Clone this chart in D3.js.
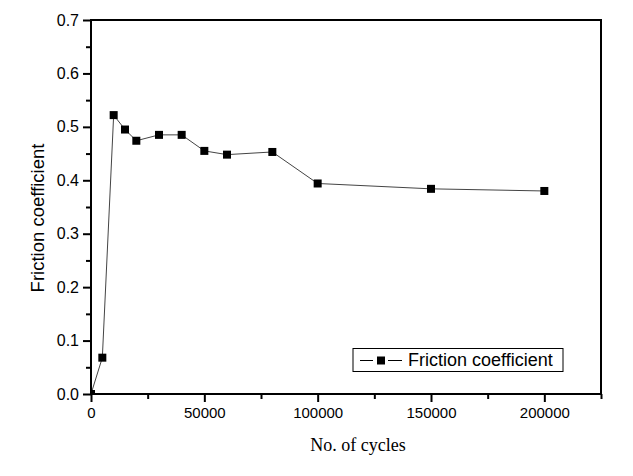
<!DOCTYPE html>
<html><head><meta charset="utf-8">
<script src="https://cdn.jsdelivr.net/npm/d3@7"></script>
<style>body{margin:0;background:#fff}svg{display:block}</style>
</head><body>
<svg id="c" width="633" height="476"></svg>
<script>
const cycles = [0, 5000, 10000, 15000, 20000, 30000, 40000, 50000, 60000, 80000, 100000, 150000, 200000];
const friction = [0.0, 0.068, 0.522, 0.495, 0.474, 0.485, 0.485, 0.455, 0.448, 0.453, 0.394, 0.384, 0.380];
const xTicks = [0, 50000, 100000, 150000, 200000];
const xMinor = [25000, 75000, 125000, 175000, 225000];
const yTicks = [0.0, 0.1, 0.2, 0.3, 0.4, 0.5, 0.6, 0.7];
const yMinor = [0.05, 0.15, 0.25, 0.35, 0.45, 0.55, 0.65];
const seriesName = "Friction coefficient";
const xTitle = "No. of cycles";
const yTitle = "Friction coefficient";

const L = 91, R = 601, T = 20, B = 394;
const svg = d3.select("#c");
const x = d3.scaleLinear().domain([0, 225000]).range([L, R]);
const y = d3.scaleLinear().domain([0, 0.7]).range([B, T]);
const sans = "Arial, 'Liberation Sans', Helvetica, sans-serif";
const serif = "'Times New Roman', 'Liberation Serif', Times, serif";

svg.append("defs").append("clipPath").attr("id", "clip")
  .append("rect").attr("x", L).attr("y", T).attr("width", R - L).attr("height", B - T);

const data = cycles.map((c, i) => ({c, v: friction[i]}));
const g = svg.append("g").attr("clip-path", "url(#clip)");
g.append("path").datum(data)
  .attr("fill", "none").attr("stroke", "#444").attr("stroke-width", 1)
  .attr("d", d3.line().x(d => x(d.c)).y(d => y(d.v)));
const ms = 8;
g.selectAll("rect.m").data(data).join("rect")
  .attr("x", d => x(d.c) - ms / 2).attr("y", d => y(d.v) - ms / 2)
  .attr("width", ms).attr("height", ms).attr("fill", "#000");

// axes
const xAxis = svg.append("g").attr("transform", `translate(0,${B})`)
  .call(d3.axisBottom(x).tickValues(xTicks).tickFormat(d3.format("d")).tickSize(8).tickPadding(5));
svg.append("g").attr("transform", `translate(0,${B})`)
  .call(d3.axisBottom(x).tickValues(xMinor).tickFormat("").tickSize(5))
  .call(s => s.select(".domain").remove());
const yAxis = svg.append("g").attr("transform", `translate(${L},0)`)
  .call(d3.axisLeft(y).tickValues(yTicks).tickFormat(d3.format(".1f")).tickSize(8).tickPadding(4));
svg.append("g").attr("transform", `translate(${L},0)`)
  .call(d3.axisLeft(y).tickValues(yMinor).tickFormat("").tickSize(5))
  .call(s => s.select(".domain").remove());

svg.selectAll(".domain").remove();
svg.selectAll(".tick line").attr("stroke", "#000").attr("stroke-width", 2);
xAxis.selectAll(".tick text").attr("font-family", sans).attr("font-size", 15).attr("fill", "#000");
yAxis.selectAll(".tick text").attr("font-family", sans).attr("font-size", 16).attr("fill", "#000");

// frame
svg.append("rect").attr("x", L).attr("y", T).attr("width", R - L).attr("height", B - T)
  .attr("fill", "none").attr("stroke", "#000").attr("stroke-width", 2);

// titles
svg.append("text").attr("x", 358).attr("y", 451).attr("text-anchor", "middle")
  .attr("font-family", serif).attr("font-size", 18).text(xTitle);
svg.append("text").attr("transform", "translate(44,218) rotate(-90)").attr("text-anchor", "middle")
  .attr("font-family", sans).attr("font-size", 18.5).text(yTitle);

// legend
const lg = svg.append("g");
lg.append("rect").attr("x", 353).attr("y", 348.5).attr("width", 210).attr("height", 23)
  .attr("fill", "#fff").attr("stroke", "#000").attr("stroke-width", 1);
lg.append("line").attr("x1", 360).attr("x2", 373).attr("y1", 360.5).attr("y2", 360.5)
  .attr("stroke", "#000").attr("stroke-width", 1);
lg.append("line").attr("x1", 388).attr("x2", 402).attr("y1", 360.5).attr("y2", 360.5)
  .attr("stroke", "#000").attr("stroke-width", 1);
lg.append("rect").attr("x", 381 - ms / 2).attr("y", 360.5 - ms / 2).attr("width", ms).attr("height", ms).attr("fill", "#000");
lg.append("text").attr("x", 408).attr("y", 366).attr("font-family", sans).attr("font-size", 18).text(seriesName);
</script>
</body></html>
